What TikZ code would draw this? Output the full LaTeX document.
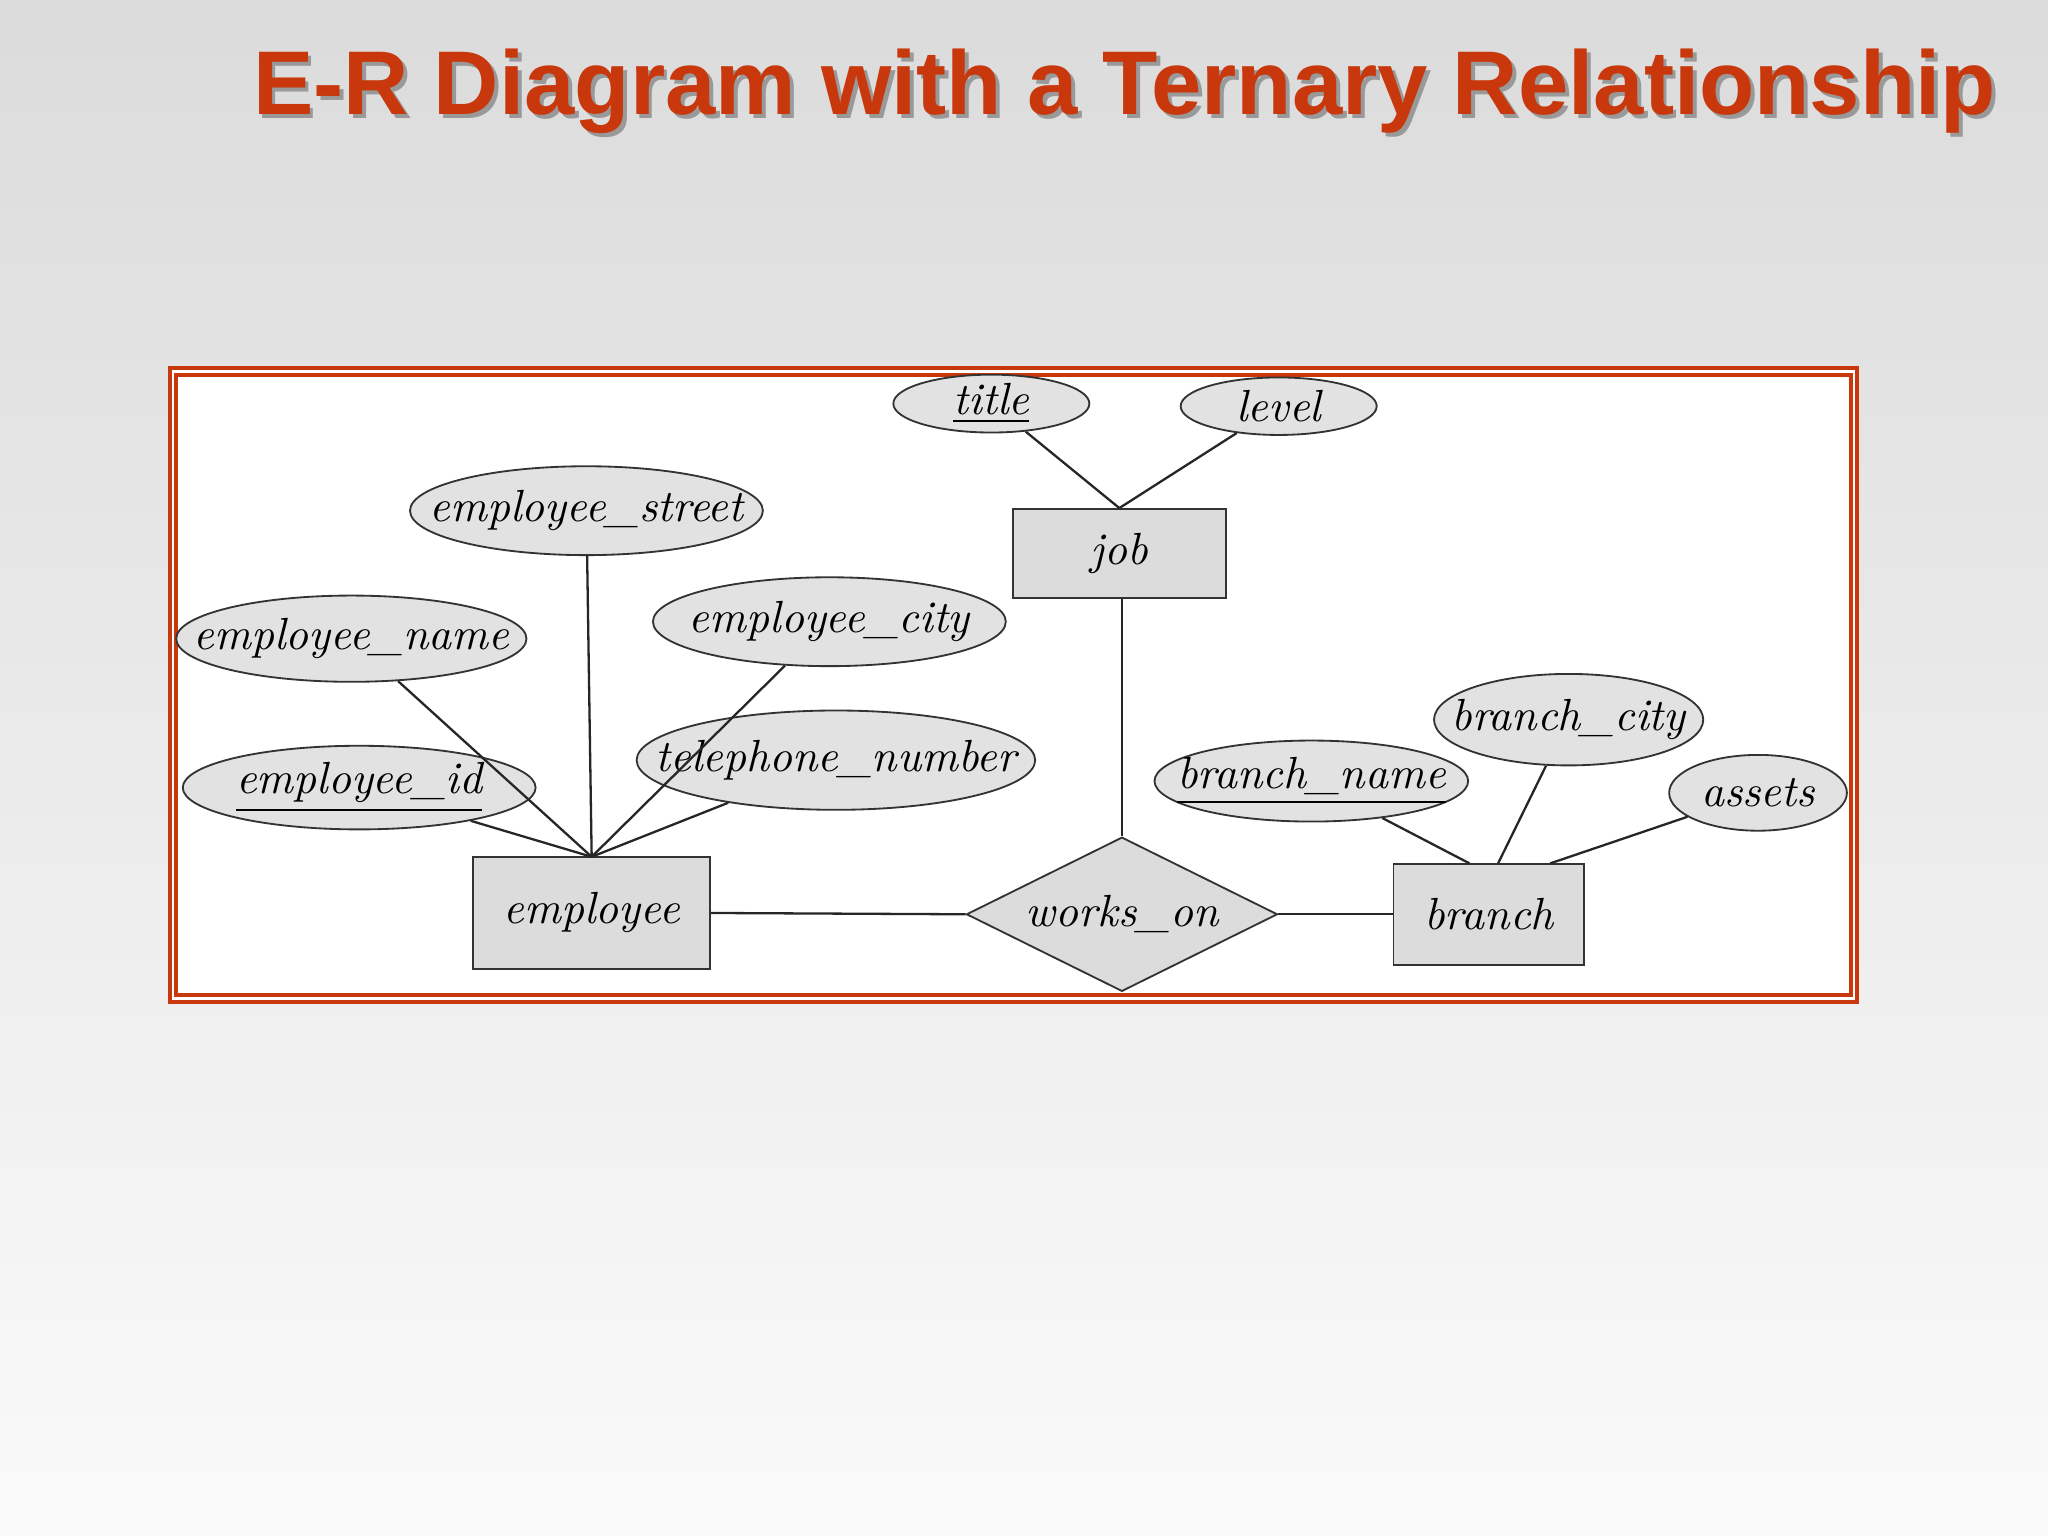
\documentclass[tikz,border=0pt]{standalone}
\usepackage{fontspec}
\newfontfamily\titlefont{Liberation Sans}
\usetikzlibrary{shapes.geometric,shadings}
\definecolor{ttl}{HTML}{C8380C}
\definecolor{efill}{HTML}{E2E2E2}
\definecolor{rfill}{HTML}{DCDCDC}
\newcommand{\zt}[1]{\makebox[0pt]{#1}}
\begin{document}
\begin{tikzpicture}[x=0.01cm,y=-0.01cm,
  attr/.style={ellipse,draw=black!80,fill=efill,inner sep=0pt,font=\fontsize{9.8}{11}\selectfont\itshape},
  ent/.style={rectangle,draw=black!80,fill=rfill,inner sep=0pt,font=\fontsize{9.8}{11}\selectfont\itshape},
  rel/.style={diamond,aspect=2,draw=black!80,fill=rfill,inner sep=0pt,font=\fontsize{9.8}{11}\selectfont\itshape},
  ln/.style={draw=black!85,line width=0.5pt}]
\shade[top color=black!14,bottom color=black!2] (0,0) rectangle (1568,1176);
\useasboundingbox (0,0) rectangle (1568,1176);
\node[font=\titlefont\bfseries\fontsize{19.7}{23}\selectfont,text=black!40] at (864,73) {E-R Diagram with a Ternary Relationship};
\node (T) [font=\titlefont\bfseries\fontsize{19.7}{23}\selectfont,text=ttl] at (861,70) {E-R Diagram with a Ternary Relationship};
\draw[ttl,fill=white,line width=0.8pt] (130,282) rectangle (1422,767);
\draw[ttl,line width=0.8pt] (135,287) rectangle (1417,762);
\node[attr,minimum width=1.50cm,minimum height=0.44cm] (title) at (759,309) {\zt{\underline{title}}};
\node[attr,minimum width=1.50cm,minimum height=0.44cm] (level) at (979,311) {\zt{level}};
\node[ent,minimum width=1.63cm,minimum height=0.68cm] (job) at (857,424) {job};
\node[attr,minimum width=2.70cm,minimum height=0.68cm] (street) at (449,391) {\zt{employee\_street}};
\node[attr,minimum width=2.68cm,minimum height=0.66cm] (name) at (269,489) {\zt{employee\_name}};
\node[attr,minimum width=2.70cm,minimum height=0.68cm] (city) at (635,476) {\zt{employee\_city}};
\node[attr,minimum width=2.70cm,minimum height=0.64cm] (eid) at (275,603) {\zt{\underline{employee\_id}}};
\node[attr,minimum width=3.05cm,minimum height=0.76cm] (tel) at (640,582) {\zt{telephone\_number}};
\node[ent,minimum width=1.81cm,minimum height=0.86cm] (emp) at (453,699) {employee};
\node[rel,minimum width=2.38cm,minimum height=1.18cm] (wo) at (859,700) {\zt{works\_on}};
\node[ent,minimum width=1.46cm,minimum height=0.77cm] (br) at (1140,700) {branch};
\node[attr,minimum width=2.40cm,minimum height=0.62cm] (bname) at (1004,598) {\zt{\underline{branch\_name}}};
\node[attr,minimum width=2.06cm,minimum height=0.70cm] (bcity) at (1201,551) {\zt{branch\_city}};
\node[attr,minimum width=1.36cm,minimum height=0.58cm] (assets) at (1346,607) {\zt{assets}};
\coordinate (et) at (453,656);
\coordinate (jt) at (857,389);
\draw[ln] (title) -- (jt);
\draw[ln] (level) -- (jt);
\draw[ln] (street) -- (et);
\draw[ln] (name) -- (et);
\draw[ln] (city) -- (et);
\draw[ln] (eid) -- (et);
\draw[ln] (tel) -- (et);
\draw[ln] (job.south -| wo.north) -- (wo.north);
\draw[ln] (emp.east) -- (wo.west);
\draw[ln] (wo.east) -- (br.west);
\coordinate (b1) at (1125,661);
\coordinate (b2) at (1147,661);
\coordinate (b3) at (1187,661);
\draw[ln] (bname) -- (b1);
\draw[ln] (bcity) -- (b2);
\draw[ln] (assets) -- (b3);
\end{tikzpicture}
\end{document}
